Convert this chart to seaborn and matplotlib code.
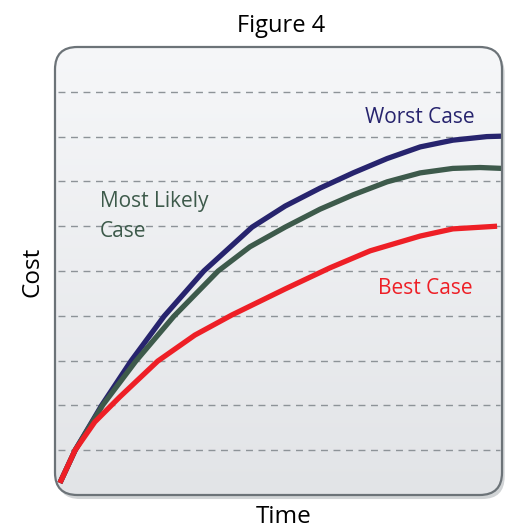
import numpy as np
import pandas as pd
import matplotlib
matplotlib.use("Agg")
import matplotlib.pyplot as plt
from matplotlib.patches import FancyBboxPatch
from matplotlib.colors import LinearSegmentedColormap
import seaborn as sns

# values (time, cost)
worst_time = [0.11, 0.45, 1.05, 1.70, 2.44, 3.33, 4.41, 5.15, 5.93, 6.67, 7.43, 8.17, 8.90, 9.66, 10.0]
worst_cost = [0.27, 1.00, 2.01, 2.99, 3.99, 5.00, 5.98, 6.45, 6.85, 7.19, 7.51, 7.77, 7.92, 8.00, 8.01]
likely_time = [0.11, 0.45, 1.07, 1.81, 2.66, 3.65, 4.36, 5.15, 5.93, 6.67, 7.43, 8.17, 8.90, 9.51, 10.0]
likely_cost = [0.27, 1.00, 2.01, 2.99, 3.99, 5.00, 5.54, 5.98, 6.38, 6.70, 6.99, 7.19, 7.29, 7.31, 7.29]
best_time = [0.11, 0.45, 0.89, 1.45, 2.30, 3.13, 3.96, 5.15, 6.15, 7.05, 8.17, 8.90, 9.89]
best_cost = [0.27, 1.00, 1.63, 2.19, 2.99, 3.57, 4.02, 4.60, 5.07, 5.45, 5.78, 5.94, 6.00]

cases = ["Worst Case", "Most Likely Case", "Best Case"]
colors = ["#27246e", "#3d5a4b", "#ee1f26"]
grid_levels = [1, 2, 3, 4, 5, 6, 7, 8, 9]

df = pd.concat([
    pd.DataFrame({"Time": worst_time, "Cost": worst_cost, "case": cases[0]}),
    pd.DataFrame({"Time": likely_time, "Cost": likely_cost, "case": cases[1]}),
    pd.DataFrame({"Time": best_time, "Cost": best_cost, "case": cases[2]}),
])

sns.set_theme(style="white")
plt.rcParams["font.family"] = ["Open Sans", "DejaVu Sans"]

fig = plt.figure(figsize=(5.16, 5.31), dpi=100)
ax = fig.add_axes([55 / 516, 36 / 531, 447 / 516, 448 / 531])
ax.set_xlim(0, 10)
ax.set_ylim(0, 10)
ax.axis("off")

# drop shadow + rounded panel
shadow = FancyBboxPatch((0.06, -0.09), 10, 10, boxstyle="round,pad=0,rounding_size=0.5",
                        facecolor="#9aa0a5", edgecolor="none", alpha=0.45, clip_on=False, zorder=0)
ax.add_patch(shadow)
panel = FancyBboxPatch((0, 0), 10, 10, boxstyle="round,pad=0,rounding_size=0.5",
                       facecolor="none", edgecolor="#6c7378", linewidth=1.6, clip_on=False, zorder=5)
ax.add_patch(panel)

cmap = LinearSegmentedColormap.from_list("bg", ["#e2e4e7", "#f6f7f9"])
grad = np.linspace(0, 1, 256).reshape(-1, 1)
img = ax.imshow(grad, extent=[0, 10, 0, 10], origin="lower", aspect="auto", cmap=cmap, zorder=1)
img.set_clip_path(panel)

for lvl in grid_levels:
    ax.axhline(lvl, xmin=0.007, xmax=0.995, color="#8d9398", lw=1.0, ls=(0, (5, 4)), zorder=2)

sns.lineplot(data=df, x="Time", y="Cost", hue="case", palette=colors, linewidth=3.8,
             sort=False, legend=False, ax=ax, zorder=3)
for ln in ax.lines:
    if ln.get_linewidth() > 3:
        ln.set_clip_path(panel)
        ln.set_solid_capstyle("butt")
        ln.set_solid_joinstyle("round")
ax.set_xlim(0, 10)
ax.set_ylim(0, 10)

fs = 15
ax.text(6.94, 8.30, "Worst Case", color=colors[0], fontsize=fs, va="baseline", zorder=4)
ax.text(1.0, 6.42, "Most Likely", color=colors[1], fontsize=fs, va="baseline", zorder=4)
ax.text(1.0, 5.75, "Case", color=colors[1], fontsize=fs, va="baseline", zorder=4)
ax.text(7.23, 4.49, "Best Case", color=colors[2], fontsize=fs, va="baseline", zorder=4)

fig.text(281 / 516, 1 - 32 / 531, "Figure 4", ha="center", va="baseline", fontsize=17, color="black")
fig.text(284 / 516, 1 - 517 / 531, "Time", ha="center", va="center", fontsize=17.5, color="black")
fig.text(33 / 516, 1 - 272 / 531, "Cost", ha="center", va="center", rotation=90, fontsize=17.5, color="black")

fig.savefig("out.png", dpi=100)
